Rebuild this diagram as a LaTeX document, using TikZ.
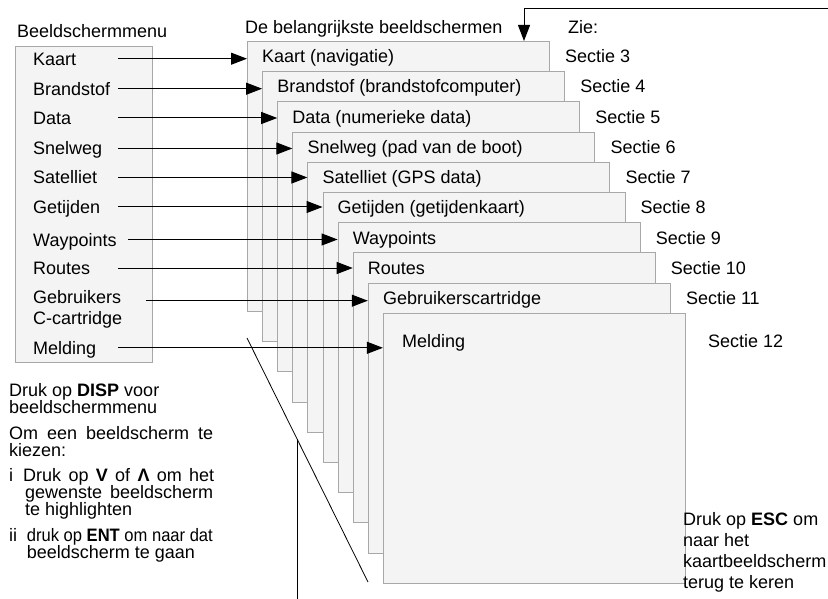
\documentclass[tikz,border=0pt]{standalone}
\usepackage{fontspec}
\setmainfont{Liberation Sans}
\usepackage{graphicx}
\usetikzlibrary{arrows.meta,positioning,calc}
\definecolor{screenfill}{HTML}{F4F4F4}
\definecolor{screenline}{HTML}{A8A8A8}

\begin{document}
\begin{tikzpicture}[x=1pt, y=-1pt,
  font=\fontsize{18}{21}\selectfont,
  panel/.style={draw=screenline, fill=screenfill, line width=1pt, inner sep=0pt, anchor=north west},
  screen/.style={panel, minimum width=302pt, minimum height=270pt},
  item/.style={anchor=west, inner sep=0pt, text height=13pt, text depth=0pt},
  note/.style={anchor=base west, inner sep=0pt},
  arr/.style={-{Triangle[length=16pt, width=12pt]}, line width=1pt, black},
  thinline/.style={line width=0.8pt, black}
]
  \useasboundingbox (0,0) rectangle (828,599);

  % menu on the left
  \node[item] (menuhead) at (17,31) {Beeldschermmenu};
  \node[panel, minimum width=137pt, minimum height=316pt] (menu) at (15,46) {};
  \node[item] (m0) at (33,58.7) {Kaart};
  \node[item] (m1) at (33,88.7) {Brandstof};
  \node[item] (m2) at (33,118) {Data};
  \node[item] (m3) at (33,148.5) {Snelweg};
  \node[item] (m4) at (33,177.5) {Satelliet};
  \node[item] (m5) at (33,207) {Getijden};
  \node[item] (m6) at (33,239.5) {Waypoints};
  \node[item] (m7) at (33,268) {Routes};
  \node[item] (m8) at (33,296.7) {Gebruikers};
  \node[item] (m8b) at (33,318.3) {C-cartridge};
  \node[item] (m9) at (33,347.8) {Melding};

  % stacked screens
  \node[item] (mainhead) at (245,27) {De belangrijkste beeldschermen};
  \node[item] (seehead) at (568,27) {Zie:};
  \foreach \i/\txt in {0/{Kaart (navigatie)},1/{Brandstof (brandstofcomputer)},2/{Data (numerieke data)},3/{Snelweg (pad van de boot)},4/{Satelliet (GPS data)},5/{Getijden (getijdenkaart)},6/Waypoints,7/Routes,8/Gebruikerscartridge}{
    \node[screen] (s\i) at ({247+15.1*\i},{41+30.2*\i}) {};
    \node[item] (t\i) at ($(s\i.north west)+(15,15.3)$) {\txt};
    \pgfmathtruncatemacro{\secnum}{\i+3}
    \node[item] (z\i) at ($(s\i.north east)+(15,15.3)$) {Sectie \secnum};
  }
  \node[screen] (s9) at ({247+15.1*9},{41+30.2*9}) {};
  \node[item] (t9) at ($(s9.north west)+(19,28)$) {Melding};
  \node[item] (z9) at ($(s9.north east)+(22,28)$) {Sectie 12};

  % menu -> screen
  \foreach \i/\d in {0/85,1/85,2/85,3/85,4/85,5/85,6/95,7/85,9/85}
    \draw[arr] ([xshift=\d pt]m\i.west) -- (m\i.west -| s\i.west);
  \coordinate (m8arr) at ($(m8.west)+(113,4)$);
  \draw[arr] (m8arr) -- (m8arr -| s8.west);

  % ESC back to the map
  \coordinate (escback) at (828,8.3);
  \coordinate (escturn) at (524,8.3);
  \draw[arr] (escback) -- (escturn) -- (escturn |- s0.north);

  % stack edge
  \coordinate (stacktop) at (247,338);
  \coordinate (stackbot) at (368,582);
  \coordinate (pagefoot) at (0,599);
  \draw[thinline] (stacktop) -- (stackbot);
  \coordinate (pointer) at ($(stacktop)!0.414!(stackbot)$);
  \draw[thinline] (pointer) -- (pointer |- pagefoot);

  % notes
  \node[note] (disp1) at (9,396) {Druk op \textbf{DISP} voor};
  \node[note] (disp2) at (9,413.5) {beeldschermmenu};
  \node[note] (pick1) at (9,439) {\makebox[204pt][s]{Om een beeldscherm te}};
  \node[note] (pick2) at (9,456.5) {kiezen:};
  \node[note] (step1n) at (9,481.7) {i};
  \node[note] (step1a) at (23,481.7) {\makebox[191pt][s]{Druk op \textbf{V} of \textbf{Λ} om het}};
  \node[note] (step1b) at (25,498.8) {\makebox[188pt][s]{gewenste beeldscherm}};
  \node[note] (step1c) at (25,515.5) {te highlighten};
  \node[note] (step2n) at (9,541.7) {ii};
  \node[note] (step2a) at (26.7,541.7) {\scalebox{0.92}[1]{druk op \textbf{ENT} om naar dat}};
  \node[note] (step2b) at (26.7,558.5) {beeldscherm te gaan};

  \node[note] (esc1) at (683,525) {Druk op \textbf{ESC} om};
  \node[note] (esc2) at (683,546.7) {naar het};
  \node[note] (esc3) at (683,567.3) {kaartbeeldscherm};
  \node[note] (esc4) at (683,588.3) {terug te keren};
\end{tikzpicture}
\end{document}
